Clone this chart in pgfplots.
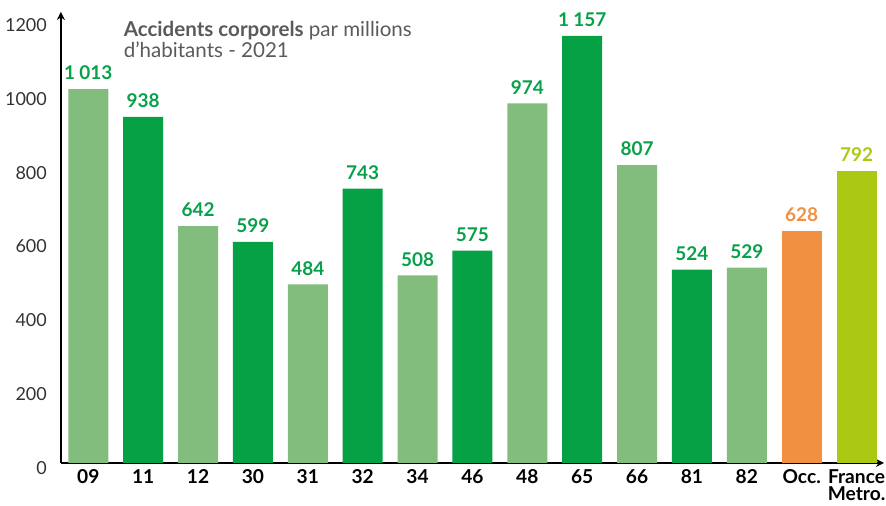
\documentclass[border=0pt]{standalone}
\usepackage{pgfplots}
\pgfplotsset{compat=1.18}
\usetikzlibrary{arrows.meta}
\usepackage{fontspec}
\setmainfont{Lato}
\definecolor{lgreen}{HTML}{82BD7E}
\definecolor{dgreen}{HTML}{06A045}
\definecolor{lblgreen}{HTML}{08A04A}
\definecolor{occ}{HTML}{F29041}
\definecolor{fra}{HTML}{AAC814}
\definecolor{titlegray}{HTML}{5A5A5A}
\begin{document}
\begin{tikzpicture}
\begin{axis}[
  name=ax,
  scale only axis,
  width=412.5pt, height=226pt,
  xmin=-0.5, xmax=14.5,
  ymin=0, ymax=1222,
  axis x line=bottom, axis y line=left,
  axis line style={line width=1.1pt, -{Stealth[length=4pt,width=4pt]}},
  ytick={0,200,...,1200},
  xtick={0,...,14},
  xticklabels={09,11,12,30,31,32,34,46,48,65,66,81,82,Occ.,{France\\Metro.}},
  major tick length=0pt,
  /pgf/number format/assume math mode=true,
  yticklabel style={font=\fontsize{9}{10}\selectfont, text=black!80, anchor=east, xshift=-3.5pt, yshift=-2.5pt, /pgf/number format/1000 sep={}},
  xticklabel style={font=\fontsize{9.6}{8.6}\selectfont\bfseries, text=black, align=center, anchor=north, yshift=-1.5pt, inner sep=1.5pt},
  ybar, bar width=20pt,
  every axis plot/.append style={bar shift=0pt, draw=none},
  nodes near coords,
  every node near coord/.append style={font=\fontsize{9.5}{10}\selectfont\bfseries, yshift=1pt, /pgf/number format/1000 sep={\hspace{0.22em}}},
  clip=false,
]
\addplot[fill=lgreen, nodes near coords style={text=lblgreen}] coordinates {(0,1013) (2,642) (4,484) (6,508) (8,974) (10,807) (12,529)};
\addplot[fill=dgreen, nodes near coords style={text=lblgreen}] coordinates {(1,938) (3,599) (5,743) (7,575) (9,1157) (11,524)};
\addplot[fill=occ, nodes near coords style={text=occ}] coordinates {(13,628)};
\addplot[fill=fra, nodes near coords style={text=fra}] coordinates {(14,792)};
\node[anchor=north west, align=left, text=titlegray, font=\fontsize{10.3}{10.6}\selectfont, inner sep=0pt] at (axis cs:0.64,1198) {{\bfseries Accidents corporels} par millions\\d’habitants - 2021};
\end{axis}
\pgfresetboundingbox
\path ([xshift=-30.5pt,yshift=-21.5pt]ax.south west) rectangle ([xshift=1pt,yshift=6pt]ax.north east);
\end{tikzpicture}
\end{document}
